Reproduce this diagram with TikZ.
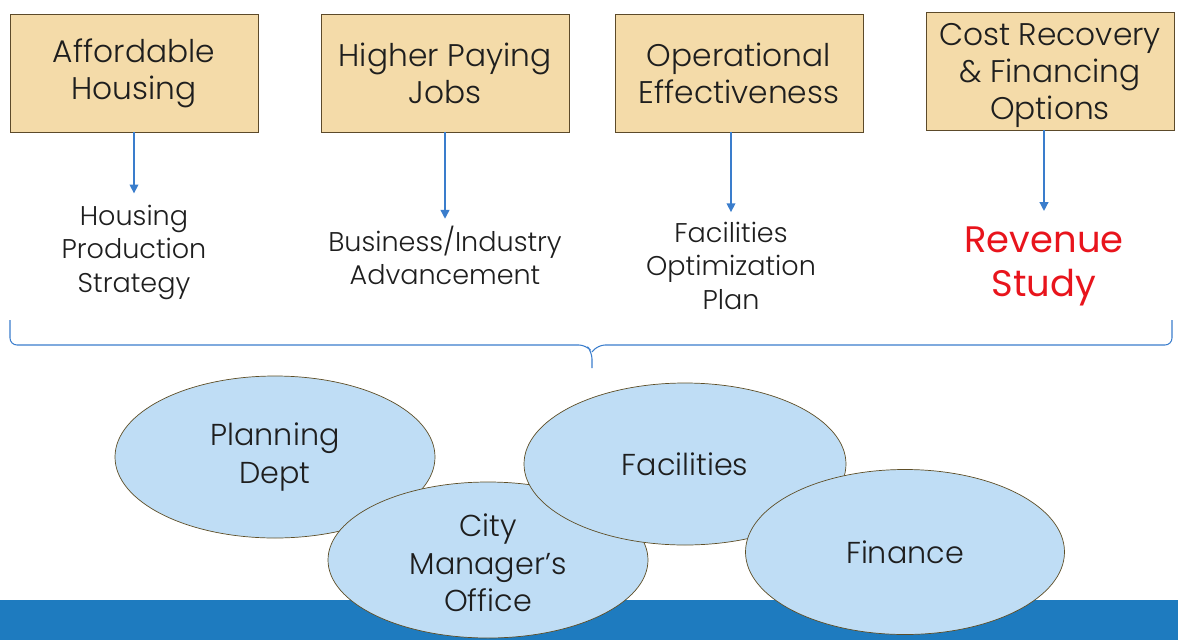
\documentclass[tikz,border=0pt]{standalone}
\usepackage{fontspec}
\setmainfont{Poppins Light}
\newfontfamily\studyfont{Poppins}
\usepackage{tikz}
\usetikzlibrary{arrows.meta,positioning,shapes.geometric}
\definecolor{boxtan}{HTML}{F4DBA9}
\definecolor{boxedge}{HTML}{5C4A2A}
\definecolor{arrblue}{HTML}{3A7DCC}
\definecolor{barblue}{HTML}{1E7BBF}
\definecolor{ovalblue}{HTML}{BFDDF5}
\definecolor{ovaledge}{HTML}{5E4E26}
\definecolor{inkdark}{HTML}{1E1E1E}
\definecolor{studyred}{HTML}{E8141C}

\begin{document}
\begin{tikzpicture}[x=0.02cm, y=-0.02cm,
  goal/.style={draw=boxedge, fill=boxtan, minimum width=248*0.02cm,
    minimum height=118*0.02cm, align=center, font=\fontsize{17.8}{21}\selectfont,
    text=inkdark, inner sep=0pt},
  outc/.style={align=center, font=\fontsize{15.4}{19}\selectfont,
    text=inkdark, inner sep=1pt, anchor=north},
  arr/.style={-{Triangle[length=5pt, width=5pt]}, draw=arrblue, thick},
  dept/.style={ellipse, draw=ovaledge, fill=ovalblue, align=center,
    font=\fontsize{17.2}{21.3}\selectfont, text=inkdark, inner sep=0pt},
]
  \useasboundingbox (0,0) rectangle (1178,640);
  \fill[barblue] (0,600) rectangle (1178,640);

  % goal boxes
  \node[goal] (b1) at (134,73) {Affordable\\Housing};
  \node[goal] (b2) at (445,73) {Higher Paying\\Jobs};
  \node[goal] (b3) at (739,73) {Operational\\Effectiveness};
  \node[goal] (b4) at (1050,71) {\\[-3pt]Cost Recovery\\\& Financing\\Options};

  % outcomes
  \node[outc] (o1) at (134,203) {Housing\\Production\\Strategy};
  \node[outc] (o2) at (445,224) {Business/Industry\\Advancement};
  \node[outc] (o3) at (731,220) {Facilities\\Optimization\\Plan};
  \node[outc, text=studyred, font=\studyfont\fontsize{21}{25}\selectfont]
    (o4) at (1044,225) {Revenue\\Study};

  \draw[arr, shorten >=5.5pt] (b1) -- (o1);
  \draw[arr, shorten >=3pt] (b2) -- (o2);
  \draw[arr, shorten >=4.5pt] (b3.south -| o3.north) -- (o3);
  \draw[arr, shorten >=8pt] (b4.south -| o4.north) -- (o4);

  % brace
  \coordinate (bl) at (10,320);
  \coordinate (br) at (1172,320);
  \coordinate (tip) at (592,368);
  \draw[arrblue, semithick, rounded corners=4pt]
    (bl) |- (586,345) -- (592,352) -- (tip);
  \draw[arrblue, semithick, rounded corners=4pt]
    (br) |- (598,345) -- (592,352);

  % departments
  \node[dept, minimum width=320*0.02cm, minimum height=162*0.02cm]
    (plan) at (275,457) {Planning\\Dept};
  \node[dept, minimum width=320*0.02cm, minimum height=156*0.02cm]
    (city) at (488,560) {\\[-5pt]City\\Manager’s\\Office};
  \node[dept, minimum width=322*0.02cm, minimum height=162*0.02cm]
    (fac) at (685,464) {Facilities};
  \node[dept, minimum width=319*0.02cm, minimum height=165*0.02cm]
    (fin) at (905,552) {Finance};
\end{tikzpicture}
\end{document}
